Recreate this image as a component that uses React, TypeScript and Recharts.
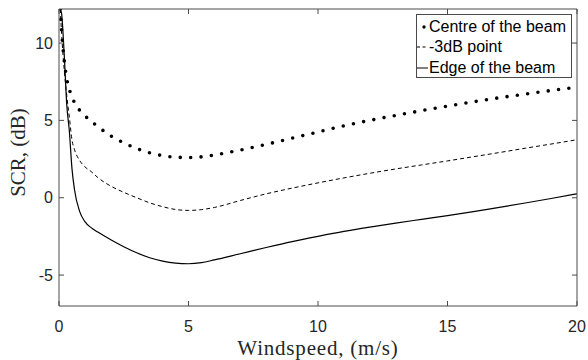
import { Label, Legend, Line, LineChart, XAxis, YAxis } from "recharts"

const windspeed = [0.05, 0.1, 0.2, 0.3, 0.4, 0.5, 0.6, 0.8, 1, 1.25, 1.5, 2, 2.5, 3, 3.5, 4, 4.5, 5, 5.5, 6, 7, 8, 9, 10, 11, 12, 13, 14, 15, 16, 17, 18, 19, 20]
const centre = [12.2, 10.8, 8.9, 7.7, 7.0, 6.5, 6.15, 5.65, 5.3, 4.93, 4.6, 4.0, 3.55, 3.18, 2.9, 2.72, 2.62, 2.6, 2.64, 2.76, 3.08, 3.45, 3.85, 4.25, 4.65, 5.0, 5.32, 5.63, 5.92, 6.2, 6.46, 6.7, 6.93, 7.15]
const halfPower = [12.2, 10.6, 8.3, 6.6, 5.2, 3.75, 3.1, 2.4, 2.0, 1.68, 1.3, 0.75, 0.35, 0.0, -0.33, -0.58, -0.76, -0.82, -0.77, -0.63, -0.18, 0.25, 0.62, 0.96, 1.28, 1.58, 1.86, 2.12, 2.38, 2.65, 2.92, 3.2, 3.47, 3.75]
const edge = [12.2, 11.9, 9.3, 6.0, 4.3, 1.9, 0.5, -0.9, -1.55, -1.95, -2.22, -2.72, -3.17, -3.56, -3.88, -4.1, -4.23, -4.27, -4.2, -4.02, -3.62, -3.22, -2.84, -2.5, -2.18, -1.9, -1.64, -1.4, -1.16, -0.9, -0.62, -0.34, -0.05, 0.25]

const xTicks = [0, 5, 10, 15, 20]
const yTicks = [-5, 0, 5, 10]

const data = windspeed.map((w, i) => ({ w, centre: centre[i], half: halfPower[i], edge: edge[i] }))

const axisColor = "#4a4a4a"
const tickFont = { fontSize: 16, fill: "#262626", fontFamily: "Liberation Sans, Arial, sans-serif" }
const serif = "Liberation Serif, Times New Roman, serif"

function LegendBox() {
  const rows = [
    { label: "Centre of the beam", kind: "dot" },
    { label: "-3dB point", kind: "dash" },
    { label: "Edge of the beam", kind: "solid" },
  ]
  return (
    <div
      style={{
        width: 156,
        height: 64,
        boxSizing: "border-box",
        border: `1px solid ${axisColor}`,
        background: "#fff",
        paddingTop: 2,
        fontFamily: "Liberation Sans, Arial, sans-serif",
        fontSize: 16,
        color: "#000",
      }}
    >
      {rows.map((r) => (
        <div key={r.label} style={{ display: "flex", alignItems: "center", height: 20.3, whiteSpace: "nowrap" }}>
          <svg width={11} height={20} style={{ flex: "none" }}>
            {r.kind === "dot" && <circle cx={7} cy={10} r={1.7} fill="#000" />}
            {r.kind === "dash" && <line x1={0} x2={11} y1={10} y2={10} stroke="#000" strokeDasharray="3 2.5" />}
            {r.kind === "solid" && <line x1={0} x2={11} y1={10} y2={10} stroke="#000" />}
          </svg>
          <span style={{ marginLeft: 1 }}>{r.label}</span>
        </div>
      ))}
    </div>
  )
}

export default function App() {
  return (
    <div style={{ position: "absolute", left: 0, top: 0, background: "#fff" }}>
      <LineChart width={588} height={360} data={data} margin={{ top: 8, right: 10, bottom: 4, left: 0 }}>
        <XAxis
          dataKey="w"
          type="number"
          domain={[0, 20]}
          ticks={xTicks}
          height={50}
          stroke={axisColor}
          tickSize={-5}
          tickMargin={20}
          tick={tickFont}
          allowDataOverflow
        >
          <Label
            content={({ viewBox }: any) => (
              <text
                x={viewBox.x + viewBox.width / 2}
                y={355}
                textAnchor="middle"
                fontFamily={serif}
                fontSize={21}
                letterSpacing={0.8}
                fill="#262626"
              >
                Windspeed, (m/s)
              </text>
            )}
          />
        </XAxis>
        <XAxis
          xAxisId="top"
          orientation="top"
          dataKey="w"
          type="number"
          domain={[0, 20]}
          ticks={xTicks}
          height={1}
          stroke={axisColor}
          tickSize={-5}
          tickFormatter={() => ""}
          allowDataOverflow
        />
        <YAxis
          type="number"
          domain={[-7, 12.2]}
          ticks={yTicks}
          width={59}
          stroke={axisColor}
          tickSize={-5}
          tickMargin={11}
          tick={tickFont}
          allowDataOverflow
        >
          <Label
            content={({ viewBox }: any) => {
              const cx = 18
              const cy = viewBox.y + viewBox.height / 2 - 5
              return (
                <text
                  x={cx}
                  y={cy}
                  transform={`rotate(-90 ${cx} ${cy})`}
                  textAnchor="middle"
                  dominantBaseline="central"
                  fontFamily={serif}
                  fontSize={21}
                  fill="#262626"
                >
                  SCR, (dB)
                </text>
              )
            }}
          />
        </YAxis>
        <YAxis
          yAxisId="right"
          orientation="right"
          type="number"
          domain={[-7, 12.2]}
          ticks={yTicks}
          width={1}
          stroke={axisColor}
          tickSize={-5}
          tickFormatter={() => ""}
          allowDataOverflow
        />
        <Legend
          layout="vertical"
          align="center"
          verticalAlign="middle"
          wrapperStyle={{ left: 416, top: 14, width: 156, height: 64 }}
          content={() => <LegendBox />}
        />
        <Line
          type="monotone"
          dataKey="edge"
          stroke="#000"
          strokeWidth={1.2}
          dot={false}
          activeDot={false}
          isAnimationActive={false}
        />
        <Line
          type="monotone"
          dataKey="half"
          stroke="#000"
          strokeWidth={1}
          strokeDasharray="4 3"
          dot={false}
          activeDot={false}
          isAnimationActive={false}
        />
        <Line
          type="monotone"
          dataKey="centre"
          stroke="#000"
          strokeWidth={3.6}
          strokeLinecap="round"
          strokeDasharray="0 10.4"
          dot={false}
          activeDot={false}
          isAnimationActive={false}
        />
      </LineChart>
    </div>
  )
}
